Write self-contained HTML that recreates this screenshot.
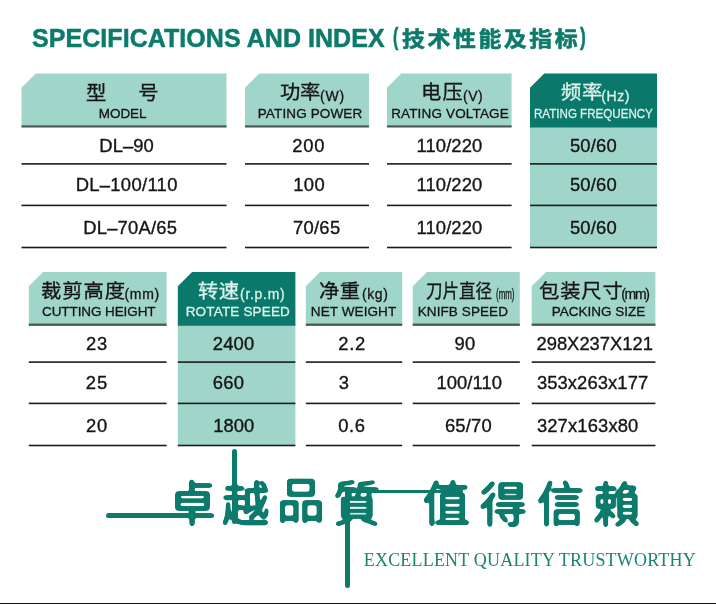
<!DOCTYPE html>
<html lang="zh">
<head>
<meta charset="utf-8">
<title>SPECIFICATIONS AND INDEX</title>
<style>
html,body{margin:0;padding:0;background:#fff;}
body{width:716px;height:605px;position:relative;overflow:hidden;font-family:"Liberation Sans","Noto Sans CJK SC",sans-serif;color:#151515;}
.abs{position:absolute;}
.grp{margin:0;padding:0;font-size:inherit;font-weight:normal;}
.t{position:absolute;white-space:nowrap;transform-origin:0 50%;line-height:1;}
.hc{font-size:19px;font-weight:normal;-webkit-text-stroke:0.3px #151515;}
.hc.w{-webkit-text-stroke-color:#dcf2ec;}
.hu{font-size:14px;-webkit-text-stroke:0.3px currentColor;}
.he{font-size:13.5px;-webkit-text-stroke:0.3px currentColor;}
.w{color:#dcf2ec;}
.d{font-size:18.4px;-webkit-text-stroke:0.35px currentColor;}
.tt{font-size:25px;font-weight:bold;color:#0d7b6c;-webkit-text-stroke:0.5px #0d7b6c;}
.tc{font-size:21px;font-weight:bold;color:#0d7b6c;-webkit-text-stroke:0.6px #0d7b6c;}
.tp{font-size:23.5px;font-weight:bold;color:#0d7b6c;-webkit-text-stroke:0.6px #0d7b6c;}
.en{font-family:"Liberation Serif",serif;font-size:18px;color:#1b8373;}
.sl{font-family:"Liberation Sans","Noto Sans CJK TC",sans-serif;font-size:48px;font-weight:normal;fill:#0d7b6c;}
.hl{position:absolute;background:#a0d6c9;}
.bar{position:absolute;background:#0d7b6c;border-radius:3px;}
</style>
</head>
<body>
<svg class="abs" style="left:0;top:0" width="716" height="605" viewBox="0 0 716 605">
<rect x="530" y="126.4" width="127.0" height="121.10" fill="#a0d6c9"/>
<rect x="177.8" y="323.8" width="117.6" height="121.70" fill="#a0d6c9"/>
<polygon points="35.8,73.5 226.5,73.5 226.5,127.4 21.5,127.4 21.5,87.8" fill="#a0d6c9"/>
<rect x="21.5" y="125.4" width="205.0" height="2.0" fill="#47554f"/>
<polygon points="259.3,73.5 369,73.5 369,127.4 245,127.4 245,87.8" fill="#a0d6c9"/>
<rect x="245" y="125.4" width="124.0" height="2.0" fill="#47554f"/>
<polygon points="401.3,73.5 511.6,73.5 511.6,127.4 387,127.4 387,87.8" fill="#a0d6c9"/>
<rect x="387" y="125.4" width="124.6" height="2.0" fill="#47554f"/>
<polygon points="544.3,73.5 657.0,73.5 657.0,127.4 530,127.4 530,87.8" fill="#0a796b"/>
<polygon points="43.1,272 166.6,272 166.6,325.8 28.8,325.8 28.8,286.3" fill="#a0d6c9"/>
<rect x="28.8" y="323.6" width="137.8" height="2.2" fill="#47554f"/>
<polygon points="192.1,272 295.4,272 295.4,325.8 177.8,325.8 177.8,286.3" fill="#0a796b"/>
<polygon points="320.1,272 402.2,272 402.2,325.8 305.8,325.8 305.8,286.3" fill="#a0d6c9"/>
<rect x="305.8" y="323.6" width="96.4" height="2.2" fill="#47554f"/>
<polygon points="427.0,272 519.8,272 519.8,325.8 412.7,325.8 412.7,286.3" fill="#a0d6c9"/>
<rect x="412.7" y="323.6" width="107.1" height="2.2" fill="#47554f"/>
<polygon points="546.0,272 655.4,272 655.4,325.8 531.7,325.8 531.7,286.3" fill="#a0d6c9"/>
<rect x="531.7" y="323.6" width="123.7" height="2.2" fill="#47554f"/>
<rect x="21.5" y="163.10" width="205.0" height="1.6" fill="#1c1c1c"/>
<rect x="21.5" y="204.60" width="205.0" height="1.6" fill="#1c1c1c"/>
<rect x="21.5" y="246.70" width="205.0" height="1.6" fill="#1c1c1c"/>
<rect x="245" y="163.10" width="124.0" height="1.6" fill="#1c1c1c"/>
<rect x="245" y="204.60" width="124.0" height="1.6" fill="#1c1c1c"/>
<rect x="245" y="246.70" width="124.0" height="1.6" fill="#1c1c1c"/>
<rect x="387" y="163.10" width="124.6" height="1.6" fill="#1c1c1c"/>
<rect x="387" y="204.60" width="124.6" height="1.6" fill="#1c1c1c"/>
<rect x="387" y="246.70" width="124.6" height="1.6" fill="#1c1c1c"/>
<rect x="530" y="163.10" width="127.0" height="1.6" fill="#1c1c1c"/>
<rect x="530" y="204.60" width="127.0" height="1.6" fill="#1c1c1c"/>
<rect x="530" y="246.70" width="127.0" height="1.6" fill="#1c1c1c"/>
<rect x="28.8" y="361.30" width="137.8" height="1.6" fill="#1c1c1c"/>
<rect x="28.8" y="402.60" width="137.8" height="1.6" fill="#1c1c1c"/>
<rect x="28.8" y="444.70" width="137.8" height="1.6" fill="#1c1c1c"/>
<rect x="177.8" y="361.30" width="117.6" height="1.6" fill="#1c1c1c"/>
<rect x="177.8" y="402.60" width="117.6" height="1.6" fill="#1c1c1c"/>
<rect x="177.8" y="444.70" width="117.6" height="1.6" fill="#1c1c1c"/>
<rect x="305.8" y="361.30" width="96.4" height="1.6" fill="#1c1c1c"/>
<rect x="305.8" y="402.60" width="96.4" height="1.6" fill="#1c1c1c"/>
<rect x="305.8" y="444.70" width="96.4" height="1.6" fill="#1c1c1c"/>
<rect x="412.7" y="361.30" width="107.1" height="1.6" fill="#1c1c1c"/>
<rect x="412.7" y="402.60" width="107.1" height="1.6" fill="#1c1c1c"/>
<rect x="412.7" y="444.70" width="107.1" height="1.6" fill="#1c1c1c"/>
<rect x="531.7" y="361.30" width="123.7" height="1.6" fill="#1c1c1c"/>
<rect x="531.7" y="402.60" width="123.7" height="1.6" fill="#1c1c1c"/>
<rect x="531.7" y="444.70" width="123.7" height="1.6" fill="#1c1c1c"/>
</svg>
<div class="bar" style="left:106px;top:513px;width:72px;height:5px"></div>
<div class="bar" style="left:232.2px;top:448.6px;width:5px;height:75px"></div>
<div class="bar" style="left:345px;top:490px;width:5px;height:97.5px"></div>
<div class="bar" style="left:346px;top:490.2px;width:117px;height:2.6px;border-radius:1px"></div>
<div class="abs" style="left:0;top:603px;width:716px;height:1px;background:#111"></div>
<svg class="abs" style="left:0;top:0" width="716" height="605" viewBox="0 0 716 605">
<defs><filter id="goo" x="-20%" y="-20%" width="140%" height="140%" color-interpolation-filters="sRGB"><feGaussianBlur stdDeviation="1.4"/><feColorMatrix type="matrix" values="0 0 0 0 0.051  0 0 0 0 0.482  0 0 0 0 0.424  0 0 0 6 -1.25"/></filter></defs>
<text id="s1" class="t sl" filter="url(#goo)" x="168.15" y="521.00">卓</text>
<text id="s2" class="t sl" filter="url(#goo)" x="221.78" y="520.95">越</text>
<text id="s3" class="t sl" filter="url(#goo)" x="276.74" y="518.00">品</text>
<text id="s4" class="t sl" filter="url(#goo)" x="332.68" y="521.37">質</text>
<text id="s5" class="t sl" filter="url(#goo)" x="422.58" y="521.36">值</text>
<text id="s6" class="t sl" filter="url(#goo)" x="479.60" y="521.68">得</text>
<text id="s7" class="t sl" filter="url(#goo)" x="536.72" y="520.93">信</text>
<text id="s8" class="t sl" filter="url(#goo)" x="592.98" y="521.88">賴</text>
</svg>
<h1 id="title" class="grp">
<span id="t1" class="t tt" style="left:32.06px;top:26.00px;letter-spacing:0.05px">SPECIFICATIONS AND INDEX</span>
<span id="t3" class="t tp" style="left:393.33px;top:26.00px;transform:scaleX(0.677)">(</span>
<span id="t4" class="t tc" style="left:401.77px;top:28.00px;letter-spacing:2.36px;transform:scaleX(1.090)">技术性能及指标</span>
<span id="t5" class="t tp" style="left:579.77px;top:26.00px;transform:scaleX(0.735)">)</span>
</h1>
<section id="table1-head" class="grp">
<span id="h11c" class="t hc" style="left:86.24px;top:84.00px;letter-spacing:29.77px;transform:scaleX(1.070)">型号</span>
<span id="h11e" class="t he" style="left:98.85px;top:107.21px;letter-spacing:-0.09px">MODEL</span>
<span id="h12c" class="t hc" style="left:279.67px;top:83.48px;letter-spacing:-0.32px;transform:scaleX(1.070)">功率</span>
<span id="h12u" class="t hu" style="left:320.12px;top:89.35px;letter-spacing:0.81px">(W)</span>
<span id="h12e" class="t he" style="left:257.72px;top:107.00px;letter-spacing:0.14px">PATING POWER</span>
<span id="h13c" class="t hc" style="left:421.18px;top:83.31px;letter-spacing:1.21px;transform:scaleX(1.070)">电压</span>
<span id="h13u" class="t hu" style="left:463.08px;top:88.56px;letter-spacing:0.41px">(V)</span>
<span id="h13e" class="t he" style="left:391.15px;top:106.63px;letter-spacing:0.16px">RATING VOLTAGE</span>
<span id="h14c" class="t hc w" style="left:560.67px;top:83.23px;letter-spacing:0.51px;transform:scaleX(1.070)">频率</span>
<span id="h14u" class="t hu w" style="left:601.37px;top:89.36px;letter-spacing:0.50px">(Hz)</span>
<span id="h14e" class="t he w" style="left:534.38px;top:106.96px;transform:scaleX(0.858)">RATING FREQUENCY</span>
</section>
<section id="table1-body" class="grp">
<span id="d10" class="t d" style="left:99.29px;top:137.00px;letter-spacing:0.08px">DL–90</span>
<span id="d11" class="t d" style="left:75.64px;top:176.00px;letter-spacing:0.32px">DL–100/110</span>
<span id="d12" class="t d" style="left:83.25px;top:219.00px;letter-spacing:0.20px">DL–70A/65</span>
<span id="d20" class="t d" style="left:292.16px;top:137.00px;letter-spacing:0.79px">200</span>
<span id="d21" class="t d" style="left:293.36px;top:176.00px;letter-spacing:0.28px">100</span>
<span id="d22" class="t d" style="left:292.91px;top:219.00px;letter-spacing:0.30px">70/65</span>
<span id="d30" class="t d" style="left:416.53px;top:137.00px;letter-spacing:0.10px">110/220</span>
<span id="d40" class="t d" style="left:569.90px;top:137.27px;letter-spacing:0.22px">50/60</span>
<span id="d31" class="t d" style="left:416.53px;top:176.00px;letter-spacing:0.10px">110/220</span>
<span id="d41" class="t d" style="left:569.90px;top:176.00px;letter-spacing:0.22px">50/60</span>
<span id="d32" class="t d" style="left:416.53px;top:219.00px;letter-spacing:0.10px">110/220</span>
<span id="d42" class="t d" style="left:569.90px;top:219.00px;letter-spacing:0.22px">50/60</span>
</section>
<section id="table2-head" class="grp">
<span id="h21c" class="t hc" style="left:41.30px;top:281.75px;letter-spacing:0.85px;transform:scaleX(1.070)">裁剪高度</span>
<span id="h21u" class="t hu" style="left:124.50px;top:287.41px;letter-spacing:0.69px">(mm)</span>
<span id="h21e" class="t he" style="left:42.02px;top:305.47px;letter-spacing:-0.09px">CUTTING HEIGHT</span>
<span id="h22c" class="t hc w" style="left:197.69px;top:282.14px;letter-spacing:0.40px;transform:scaleX(1.070)">转速</span>
<span id="h22u" class="t hu w" style="left:240.10px;top:287.00px;letter-spacing:0.69px">(r.p.m)</span>
<span id="h22e" class="t he w" style="left:185.71px;top:305.00px;letter-spacing:0.17px">ROTATE SPEED</span>
<span id="h23c" class="t hc" style="left:318.86px;top:282.00px;letter-spacing:0.43px;transform:scaleX(1.070)">净重</span>
<span id="h23u" class="t hu" style="left:361.95px;top:287.41px;letter-spacing:0.59px">(kg)</span>
<span id="h23e" class="t he" style="left:310.80px;top:305.34px;letter-spacing:0.10px">NET WEIGHT</span>
<span id="h24c" class="t hc" style="left:426.45px;top:281.67px;transform:scaleX(0.869)">刀片直径</span>
<span id="h24u" class="t hu" style="left:496.38px;top:287.23px;transform:scaleX(0.566)">(mm)</span>
<span id="h24e" class="t he" style="left:417.75px;top:305.00px;letter-spacing:0.09px">KNIFB SPEED</span>
<span id="h25c" class="t hc" style="left:538.65px;top:281.77px;letter-spacing:0.76px;transform:scaleX(1.070)">包装尺寸</span>
<span id="h25u" class="t hu" style="left:621.15px;top:287.44px;letter-spacing:-1.26px">(mm)</span>
<span id="h25e" class="t he" style="left:551.82px;top:305.34px">PACKING SIZE</span>
</section>
<section id="table2-body" class="grp">
<span id="e10" class="t d" style="left:85.88px;top:335.00px;letter-spacing:0.93px">23</span>
<span id="e11" class="t d" style="left:85.87px;top:374.00px;letter-spacing:0.92px">25</span>
<span id="e12" class="t d" style="left:85.90px;top:417.00px;letter-spacing:0.90px">20</span>
<span id="e20" class="t d" style="left:212.72px;top:335.00px;letter-spacing:0.18px">2400</span>
<span id="e21" class="t d" style="left:212.63px;top:374.00px;letter-spacing:0.39px">660</span>
<span id="e22" class="t d" style="left:213.26px;top:417.00px;letter-spacing:-0.01px">1800</span>
<span id="e30" class="t d" style="left:338.34px;top:335.00px;letter-spacing:0.69px">2.2</span>
<span id="e31" class="t d" style="left:338.71px;top:374.00px">3</span>
<span id="e32" class="t d" style="left:338.36px;top:417.00px;letter-spacing:0.49px">0.6</span>
<span id="e40" class="t d" style="left:454.62px;top:335.00px;letter-spacing:0.04px">90</span>
<span id="e41" class="t d" style="left:436.38px;top:374.00px;letter-spacing:0.10px">100/110</span>
<span id="e42" class="t d" style="left:444.96px;top:417.01px;letter-spacing:0.18px">65/70</span>
<span id="e50" class="t d" style="left:536.45px;top:335.00px">298X237X121</span>
<span id="e51" class="t d" style="left:536.89px;top:374.00px;letter-spacing:0.09px">353x263x177</span>
<span id="e52" class="t d" style="left:536.89px;top:417.00px;letter-spacing:0.14px">327x163x80</span>
</section>
<p id="tagline" class="grp">
<span id="en" class="t en" style="left:363.80px;top:551.29px;letter-spacing:0.19px">EXCELLENT QUALITY TRUSTWORTHY</span>
</p>
</body>
</html>
